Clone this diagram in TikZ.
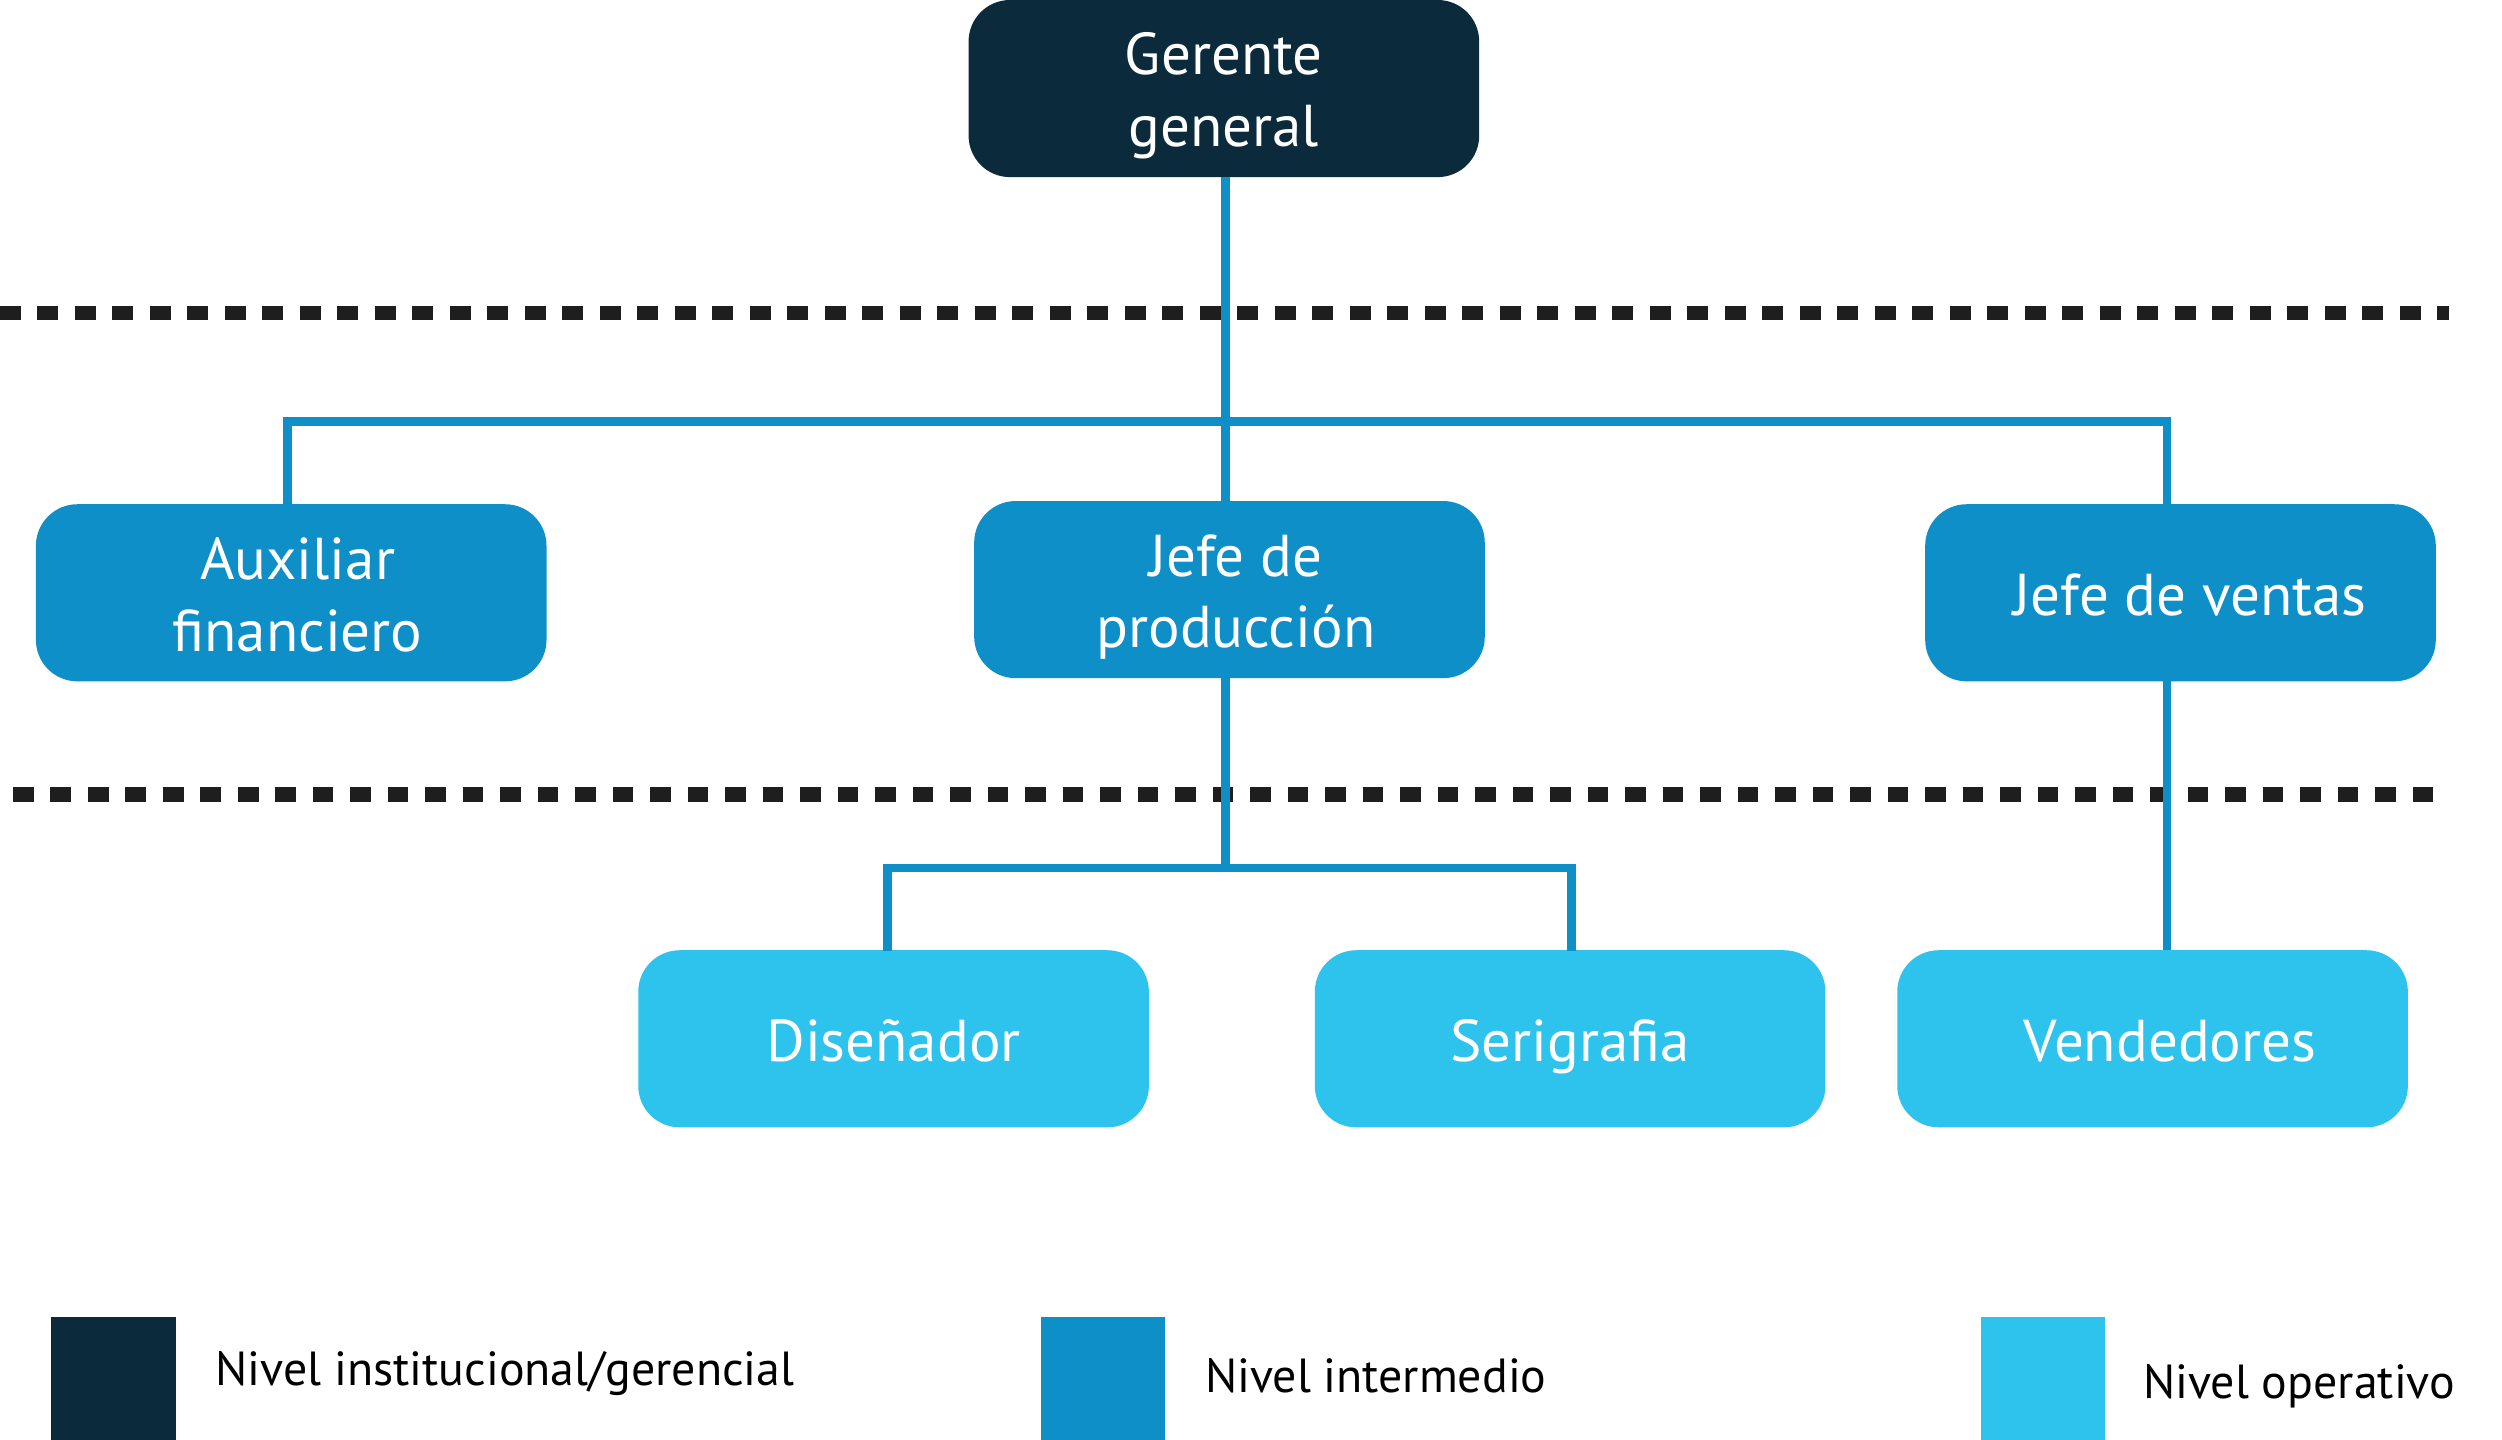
\documentclass[tikz,border=0pt]{standalone}
\usepackage{fontspec}
\setmainfont{PT Sans}
\usetikzlibrary{calc}
\definecolor{cdark}{HTML}{0B2B3C}
\definecolor{cmid}{HTML}{0E8FC8}
\definecolor{clight}{HTML}{2EC3EC}
\definecolor{cdash}{HTML}{1E1E1E}
\newcommand\bxs{\rule[-8.5pt]{0pt}{45pt}}
\tikzset{
  box/.style={rectangle, rounded corners=26pt, minimum width=320pt, minimum height=111pt,
    inner sep=0pt, align=center, text=white, font=\fontsize{37}{45}\selectfont},
  darkbox/.style={box, fill=cdark},
  midbox/.style={box, fill=cmid},
  lightbox/.style={box, fill=clight},
  conn/.style={draw=cmid, line width=5.5pt},
  sep/.style={draw=cdash, line width=9pt, dash pattern=on 13pt off 10.5pt},
  legsq/.style={rectangle, minimum width=78pt, minimum height=78pt, inner sep=0pt, anchor=north west},
  legtext/.style={anchor=west, inner sep=0pt, font=\fontsize{30}{36}\selectfont, text=black}
}
\begin{document}
\begin{tikzpicture}[x=1pt,y=-1pt]
\useasboundingbox (0,0) rectangle (1568,902);
% separators
\draw[sep] (0,196) -- (1535,196);
\draw[sep] (8,498) -- (1535,498);
% nodes
\node[darkbox] (ger) at (767,55.5) {Gerente\bxs\\general\bxs};
\node[midbox] (aux) at (182.5,371.5) {\hspace*{8pt}Auxiliar\bxs\\\hspace*{8pt}financiero\bxs};
\node[midbox] (jp) at (770.5,369.5) {\hspace*{8pt}Jefe de\bxs\\\hspace*{8pt}producción\bxs};
\node[midbox] (jv) at (1366.5,371.5) {\hspace*{12pt}Jefe de ventas\bxs};
\node[lightbox] (dis) at (560,651) {Diseñador\bxs};
\node[lightbox] (ser) at (984,651) {Serigrafia\bxs};
\node[lightbox] (ven) at (1349,651) {\hspace*{22pt}Vendedores\bxs};
% junctions
\coordinate (j1) at (768,264);
\coordinate (j2) at (768,544);
\coordinate (a1) at (180,316);
\coordinate (v1) at (1358,316);
\coordinate (v2) at (1358,427);
\coordinate (d1) at (556,596);
\coordinate (s1) at (985,596);
% connectors
\draw[conn] (ger.south -| j1) -- (jp.north -| j1);
\draw[conn] (a1) |- (j1) -| (v1);
\draw[conn] (jp.south -| j2) -- (j2);
\draw[conn] (d1) |- (j2) -| (s1);
\draw[conn] (v2) -- (ven.north -| v2);
% legend
\node[legsq, fill=cdark] (l1) at (32,825) {};
\node[legsq, fill=cmid] (l2) at (652,825) {};
\node[legsq, fill=clight] (l3) at (1241,825) {};
\node[legtext] (t1) at (135,861) {Nivel institucional/gerencial};
\node[legtext] (t2) at (755,862) {Nivel intermedio};
\node[legtext] (t3) at (1343,869) {Nivel operativo};
\end{tikzpicture}
\end{document}
